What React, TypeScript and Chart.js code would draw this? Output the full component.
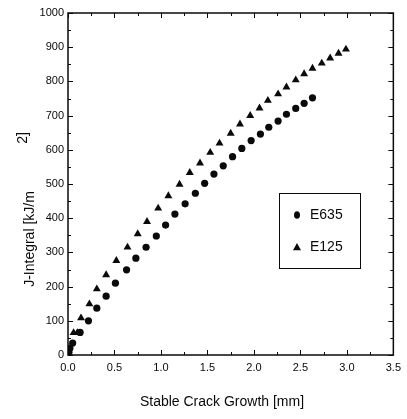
import React, { useEffect, useRef } from "react";
import { Chart, registerables } from "chart.js";

Chart.register(...registerables);

const e635Label = "E635";
const e635X = [0.01, 0.02, 0.05, 0.13, 0.22, 0.31, 0.41, 0.51, 0.63, 0.73, 0.84, 0.95, 1.05, 1.15, 1.26, 1.37, 1.47, 1.57, 1.67, 1.77, 1.87, 1.97, 2.07, 2.16, 2.26, 2.35, 2.45, 2.54, 2.63];
const e635Y = [8, 20, 35, 66, 100, 137, 172, 210, 249, 283, 315, 348, 380, 412, 442, 473, 502, 529, 553, 580, 604, 627, 646, 666, 684, 704, 721, 736, 752];

const e125Label = "E125";
const e125X = [0.06, 0.10, 0.14, 0.23, 0.31, 0.41, 0.52, 0.64, 0.75, 0.85, 0.97, 1.08, 1.20, 1.31, 1.42, 1.53, 1.63, 1.75, 1.85, 1.96, 2.06, 2.15, 2.26, 2.35, 2.45, 2.54, 2.63, 2.73, 2.82, 2.91, 2.99];
const e125Y = [65, 65, 108, 149, 193, 234, 276, 315, 354, 390, 429, 465, 499, 533, 561, 592, 619, 648, 675, 700, 722, 744, 763, 783, 804, 822, 838, 853, 868, 882, 894];

const xTitle = "Stable Crack Growth [mm]";
const yTitleMain = "J-Integral [kJ/m";
const yTitleSup = "2]";

const FONT = "'Liberation Sans', Arial, sans-serif";
const INK = "#0a0a0a";

const framePlugin = {
  id: "frameTicks",
  afterDraw(chart: any) {
    const { ctx, chartArea, scales } = chart;
    const { left, right, top, bottom } = chartArea;
    const x = scales.x;
    const y = scales.y;
    ctx.save();
    ctx.strokeStyle = INK;
    ctx.lineWidth = 1;
    ctx.beginPath();
    for (let i = 0; i <= 14; i++) {
      const v = i * 0.25;
      const px = Math.round(x.getPixelForValue(v)) + 0.5;
      const len = i % 2 === 0 ? 5 : 3;
      ctx.moveTo(px, bottom);
      ctx.lineTo(px, bottom - len);
      ctx.moveTo(px, top);
      ctx.lineTo(px, top + len);
    }
    for (let i = 0; i <= 20; i++) {
      const v = i * 50;
      const py = Math.round(y.getPixelForValue(v)) + 0.5;
      const len = i % 2 === 0 ? 5 : 3;
      ctx.moveTo(left, py);
      ctx.lineTo(left + len, py);
      ctx.moveTo(right, py);
      ctx.lineTo(right - len, py);
    }
    ctx.stroke();
    ctx.lineWidth = 1.5;
    ctx.strokeRect(left, top, right - left, bottom - top);

    // axis titles
    ctx.fillStyle = INK;
    ctx.font = `14px ${FONT}`;
    ctx.textAlign = "center";
    ctx.textBaseline = "middle";
    ctx.fillText(xTitle, 222, 402);
    ctx.save();
    ctx.translate(30, 239);
    ctx.rotate(-Math.PI / 2);
    ctx.fillText(yTitleMain, 0, 0);
    ctx.restore();
    ctx.save();
    ctx.translate(23, 138);
    ctx.rotate(-Math.PI / 2);
    ctx.fillText(yTitleSup, 0, 0);
    ctx.restore();

    // legend
    const bx = 279, by = 193, bw = 81, bh = 75;
    ctx.fillStyle = "#fff";
    ctx.fillRect(bx, by, bw, bh);
    ctx.strokeStyle = INK;
    ctx.lineWidth = 1;
    ctx.strokeRect(bx + 0.5, by + 0.5, bw, bh);
    const rows = [by + 22, by + 54];
    chart.data.datasets.forEach((ds: any, i: number) => {
      const cy = rows[i];
      const cx = bx + 18;
      ctx.fillStyle = INK;
      ctx.beginPath();
      if (ds.pointStyle === "triangle") {
        const r = 4;
        ctx.moveTo(cx, cy - r);
        ctx.lineTo(cx + r, cy + r * 0.8);
        ctx.lineTo(cx - r, cy + r * 0.8);
        ctx.closePath();
      } else {
        ctx.ellipse(cx, cy, 3, 3.8, 0, 0, Math.PI * 2);
      }
      ctx.fill();
      ctx.font = `14px ${FONT}`;
      ctx.textAlign = "left";
      ctx.textBaseline = "middle";
      ctx.fillText(ds.label, bx + 31, cy);
    });
    ctx.restore();
  },
};

export default function App() {
  const ref = useRef<HTMLCanvasElement | null>(null);
  useEffect(() => {
    document.body.style.margin = "0";
    const canvas = ref.current;
    if (!canvas) return;
    const chart = new Chart(canvas, {
      type: "scatter",
      data: {
        datasets: [
          {
            label: e635Label,
            data: e635X.map((x, i) => ({ x, y: e635Y[i] })),
            pointStyle: "circle",
            pointRadius: 3.6,
            backgroundColor: INK,
            borderColor: INK,
            borderWidth: 0,
          },
          {
            label: e125Label,
            data: e125X.map((x, i) => ({ x, y: e125Y[i] })),
            pointStyle: "triangle",
            pointRadius: 4.6,
            backgroundColor: INK,
            borderColor: INK,
            borderWidth: 0,
          },
        ],
      },
      options: {
        responsive: false,
        animation: false,
        devicePixelRatio: 1,
        layout: { padding: { top: 13, right: 12, left: 0, bottom: 0 } },
        plugins: {
          legend: { display: false },
          tooltip: { enabled: false },
        },
        scales: {
          x: {
            type: "linear",
            min: 0,
            max: 3.5,
            grid: { display: false, drawTicks: false },
            border: { display: false },
            ticks: {
              stepSize: 0.5,
              padding: 6,
              color: INK,
              font: { family: FONT, size: 11 },
              callback: (v: any) => Number(v).toFixed(1),
            },
            afterFit: (s: any) => {
              s.height = 64;
            },
          },
          y: {
            type: "linear",
            min: 0,
            max: 1000,
            grid: { display: false, drawTicks: false },
            border: { display: false },
            ticks: {
              stepSize: 100,
              padding: 4,
              color: INK,
              font: { family: FONT, size: 11 },
              callback: (v: any) => String(v),
            },
            afterFit: (s: any) => {
              s.width = 68;
            },
          },
        },
      },
      plugins: [framePlugin],
    });
    return () => chart.destroy();
  }, []);
  return (
    <div style={{ position: "relative", width: 407, height: 419, background: "#fff" }}>
      <canvas ref={ref} width={407} height={419} style={{ display: "block" }} />
    </div>
  );
}
